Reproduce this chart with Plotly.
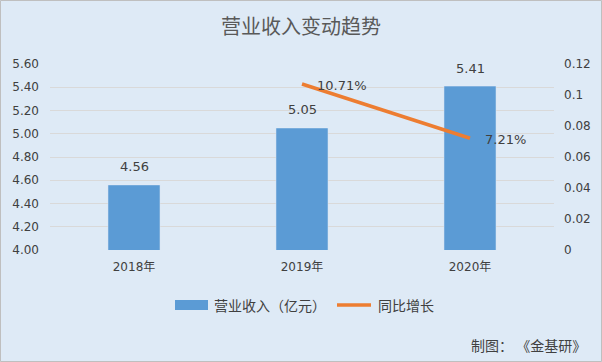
import plotly.graph_objects as go

years = ["2018年", "2019年", "2020年"]
revenue = [4.56, 5.05, 5.41]
growth_years = ["2019年", "2020年"]
growth = [0.1071, 0.0721]
growth_labels = ["10.71%", "7.21%"]

FONT = "DejaVu Sans, Noto Sans CJK SC, sans-serif"
CJK = "Noto Sans CJK SC, sans-serif"
TXT = "#404040"
BLUE = "#5B9BD5"
ORANGE = "#ED7D31"

L, R, T, B = 50, 554, 64, 250
PW, PH = R - L, B - T


def px(x):
    return (x - L) / PW


def py(y):
    return (B - y) / PH


fig = go.Figure()
fig.add_trace(go.Bar(
    x=years, y=revenue, name="营业收入（亿元）",
    marker=dict(color=BLUE), width=0.31,
))
fig.add_trace(go.Scatter(
    x=growth_years, y=growth, name="同比增长", yaxis="y2",
    mode="lines", line=dict(color=ORANGE, width=3.5), cliponaxis=False,
))

annotations = []
for xv, yv in zip(years, revenue):
    annotations.append(dict(text=f"{yv:.2f}", x=xv, y=yv, xref="x", yref="y",
                            yshift=18, showarrow=False, xanchor="center", yanchor="middle",
                            font=dict(size=13, color=TXT, family=FONT)))
for xv, yv, lab in zip(growth_years, growth, growth_labels):
    annotations.append(dict(text=lab, x=xv, y=yv, xref="x", yref="y2",
                            xshift=13, yshift=-1, showarrow=False, xanchor="left", yanchor="middle",
                            font=dict(size=13, color=TXT, family=FONT)))

annotations += [
    dict(text="制图： 《金基研》", xref="paper", yref="paper",
         x=px(588), y=py(345), xanchor="right", yanchor="middle",
         showarrow=False, font=dict(size=14, color=TXT, family=CJK)),
    dict(text="营业收入（亿元）", xref="paper", yref="paper",
         x=px(212), y=py(305), xanchor="left", yanchor="middle",
         showarrow=False, font=dict(size=14, color=TXT, family=CJK)),
    dict(text="同比增长", xref="paper", yref="paper",
         x=px(376), y=py(305), xanchor="left", yanchor="middle",
         showarrow=False, font=dict(size=14, color=TXT, family=CJK)),
]

shapes = [
    dict(type="rect", xref="paper", yref="paper",
         x0=px(175), x1=px(208), y0=py(310), y1=py(300),
         line=dict(width=0), fillcolor=BLUE),
    dict(type="line", xref="paper", yref="paper",
         x0=px(337), x1=px(371), y0=py(305), y1=py(305),
         line=dict(color=ORANGE, width=3.5)),
    dict(type="rect", xref="paper", yref="paper",
         x0=px(0.5), x1=px(601.5), y0=py(361.5), y1=py(0.5),
         line=dict(color="#BFBFBF", width=1), fillcolor="rgba(0,0,0,0)", layer="above"),
]

fig.update_layout(
    width=602, height=362,
    margin=dict(l=L, r=602 - R, t=T, b=362 - B),
    paper_bgcolor="#DEEAF6", plot_bgcolor="#DEEAF6",
    font=dict(family=FONT, size=12, color=TXT),
    showlegend=False,
    title=dict(text="营业收入变动趋势", x=0.5, xanchor="center", y=1 - 27 / 362, yanchor="middle",
               font=dict(size=20, color="#595959", family=CJK)),
    xaxis=dict(range=[-0.5, 2.5], showgrid=False, showline=False, ticks="", ticklabelstandoff=8,
               tickfont=dict(size=12, color=TXT, family=FONT)),
    yaxis=dict(range=[4.0, 5.6], dtick=0.2, tickformat=".2f", showgrid=True, gridcolor="#D9D9D9",
               gridwidth=1, zeroline=False, showline=False, ticks="", ticklabelstandoff=10,
               tickfont=dict(size=12, color=TXT, family=FONT)),
    yaxis2=dict(range=[0, 0.12], dtick=0.02, overlaying="y", side="right", showgrid=False,
                zeroline=False, showline=False, ticks="", ticklabelstandoff=9,
                tickfont=dict(size=12, color=TXT, family=FONT)),
    bargap=0.69,
    annotations=annotations,
    shapes=shapes,
)

fig.write_html("out.html", config={"displayModeBar": False},
               post_script="document.body.style.margin='0';document.body.style.padding='0';")
